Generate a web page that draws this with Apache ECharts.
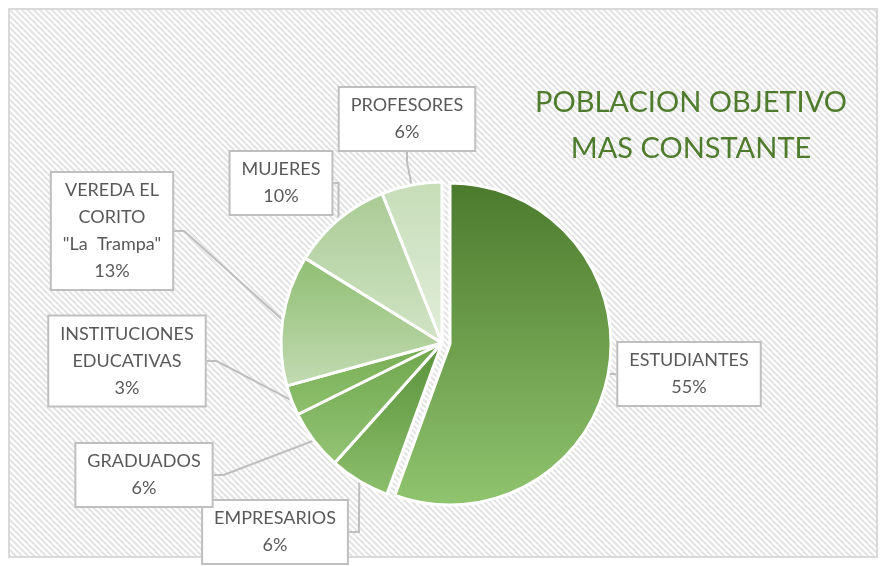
<!DOCTYPE html>
<html>
<head>
<meta charset="utf-8">
<script src="https://cdn.jsdelivr.net/npm/echarts@6/dist/echarts.min.js"></script>
<style>
html, body { margin: 0; padding: 0; background: #fff; }
#main { width: 882px; height: 566px; }
</style>
</head>
<body>
<div id="main"></div>
<script>
// data (percentages)
const categories = ['ESTUDIANTES', 'EMPRESARIOS', 'GRADUADOS', 'INSTITUCIONES\nEDUCATIVAS',
  'VEREDA EL\nCORITO\n"La  Trampa"', 'MUJERES', 'PROFESORES'];
const values = [55, 6, 6, 3, 13, 10, 6];

// slice gradients, top -> bottom
const topColors = ['#4b7a2c', '#5a913b', '#6ea64b', '#76ad52', '#8fbe72', '#a9cb94', '#c6ddb7'];
const bottomColors = ['#90c46e', '#8cbf6b', '#93c475', '#8fc06e', '#c3dbb3', '#d3e5c8', '#e2eedb'];

// label box centres
const labelPos = [[689, 374], [275, 532], [144, 475], [127, 361], [112, 231], [281, 183], [407, 119]];

// the first slice is pulled out a little
const explodeIndex = 0;

// diagonal hatch used for the plot background
const pat = document.createElement('canvas');
pat.width = 6; pat.height = 6;
const ctx = pat.getContext('2d');
ctx.fillStyle = '#ffffff';
ctx.fillRect(0, 0, 6, 6);
ctx.strokeStyle = '#e3e3e3';
ctx.lineWidth = 2;
ctx.beginPath();
ctx.moveTo(-1, -1); ctx.lineTo(7, 7);
ctx.moveTo(-1, 5); ctx.lineTo(1, 7);
ctx.moveTo(5, -1); ctx.lineTo(7, 1);
ctx.stroke();

function sliceItem(i) {
  return {
    name: categories[i],
    value: values[i],
    itemStyle: {
      color: new echarts.graphic.LinearGradient(0, 0, 0, 1, [
        { offset: 0, color: topColors[i] },
        { offset: 1, color: bottomColors[i] }
      ])
    }
  };
}
function hiddenItem(i) {
  return {
    name: '',
    value: values[i],
    itemStyle: { color: 'transparent', borderWidth: 0 },
    label: { show: false },
    labelLine: { show: false }
  };
}

// one series for the pulled-out slice, one for the rest
const explodedData = categories.map(function (n, i) { return i === explodeIndex ? sliceItem(i) : hiddenItem(i); });
const restData = categories.map(function (n, i) { return i === explodeIndex ? hiddenItem(i) : sliceItem(i); });

function pieSeries(center, data) {
  return {
    type: 'pie',
    center: center,
    radius: 161,
    startAngle: 90,
    silent: true,
    itemStyle: { borderColor: '#ffffff', borderWidth: 3 },
    emphasis: { disabled: true },
    label: {
      show: true,
      position: 'outside',
      formatter: function (p) { return p.name + '\n' + p.value + '%'; },
      fontFamily: 'Lato',
      fontSize: 18,
      lineHeight: 27,
      color: '#595959',
      align: 'center',
      backgroundColor: '#ffffff',
      borderColor: '#bfbfbf',
      borderWidth: 2,
      padding: [4, 11]
    },
    labelLine: {
      show: true,
      length: 10,
      length2: 10,
      lineStyle: { color: '#bfbfbf', width: 2 }
    },
    labelLayout: function (p) {
      const pos = labelPos[p.dataIndex];
      return { x: pos[0], y: pos[1], align: 'center', verticalAlign: 'middle' };
    },
    data: data
  };
}

const option = {
  animation: false,
  graphic: [{
    type: 'rect',
    shape: { x: 9, y: 9, width: 868, height: 548 },
    style: { fill: { image: pat, repeat: 'repeat' }, stroke: '#d9d9d9', lineWidth: 2 },
    z: -10
  }],
  title: {
    text: 'POBLACION OBJETIVO\nMAS CONSTANTE',
    left: 686,
    top: 75,
    textAlign: 'center',
    textStyle: {
      fontFamily: 'Lato',
      fontWeight: 'normal',
      fontSize: 29,
      lineHeight: 46,
      color: '#4e7b2c'
    }
  },
  series: [
    pieSeries([450, 344], explodedData),
    pieSeries([442, 343], restData)
  ]
};

const chart = echarts.init(document.getElementById('main'));
chart.setOption(option);
</script>
</body>
</html>
